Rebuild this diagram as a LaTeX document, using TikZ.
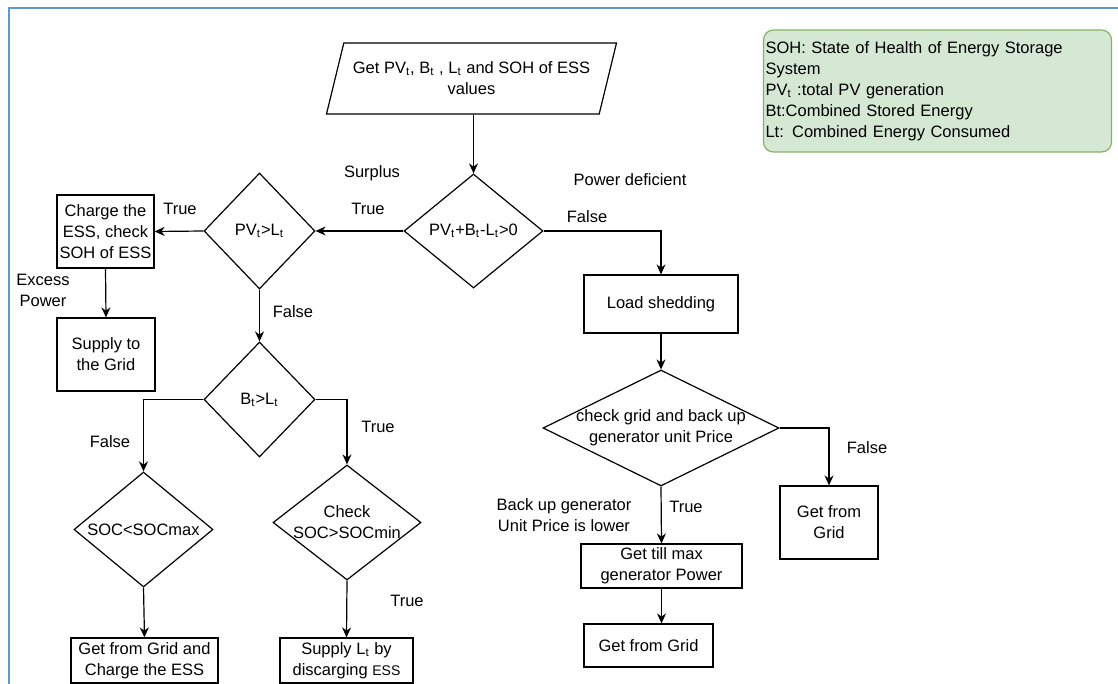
\documentclass[tikz,border=0pt]{standalone}
\usepackage{fontspec}
\setmainfont{Liberation Sans}
\usetikzlibrary{shapes.geometric,arrows.meta}

\definecolor{framec}{HTML}{5B9BD5}
\definecolor{notefill}{HTML}{D5E8D4}
\definecolor{noteline}{HTML}{82B366}

\begin{document}
\begin{tikzpicture}[x=0.5pt,y=-0.5pt,
	font=\fontsize{8.25}{10.5}\selectfont,
	line width=0.6pt,
	box/.style={draw,rectangle,inner sep=1pt,align=center},
	cond/.style={draw,diamond,inner sep=-2pt,align=center},
	lbl/.style={inner sep=0pt,align=center},
	arr/.style={-{Stealth[length=5pt,width=4.5pt]}}]
	
	% 画布大小 (按像素)
	\useasboundingbox (0,0) rectangle (1118,684);
	\draw[framec,line width=1pt] (9,684) -- (9,8) -- (1118,8); % 蓝色边框
	
	% 说明框
	\node[draw=noteline,fill=notefill,rounded corners=5pt,align=left,text width=172pt,inner xsep=1pt,minimum height=61pt] (note) at (937.5,91) {SOH: State of Health of Energy Storage\\System\\PV\textsubscript{t} :total PV generation\\Bt:Combined Stored Energy\\Lt: Combined Energy Consumed};
	
	% 输入
	\node[draw,trapezium,trapezium left angle=65,trapezium right angle=115,trapezium stretches body,minimum width=145pt,minimum height=35.5pt,align=center,inner sep=1pt] (input) at (471.5,78.5) {Get PV\textsubscript{t}, B\textsubscript{t} , L\textsubscript{t} and SOH of ESS\\values};
	
	% 判断框
	\node[cond,shape aspect=1.22,minimum width=69.5pt,minimum height=57pt] (bal) at (473.5,231) {PV\textsubscript{t}+B\textsubscript{t}-L\textsubscript{t}>0}; % 总功率判断
	\node[cond,shape aspect=0.96,minimum width=55.5pt,minimum height=58pt] (pvl) at (259.5,231) {PV\textsubscript{t}>L\textsubscript{t}}; % PV 与负载
	\node[cond,shape aspect=0.96,minimum width=55.5pt,minimum height=57.5pt] (bl) at (259.5,399.5) {B\textsubscript{t}>L\textsubscript{t}}; % 储能与负载
	\node[cond,shape aspect=1.21,minimum width=69.5pt,minimum height=57.5pt] (socmax) at (143.5,529.5) {SOC<SOCmax};
	\node[cond,shape aspect=1.29,minimum width=74pt,minimum height=57.5pt] (socmin) at (347,522.5) {Check\\SOC>SOCmin};
	\node[cond,shape aspect=2.03,minimum width=118pt,minimum height=58pt] (price) at (661,428) {check grid and back up\\generator unit Price}; % 电价比较
	
	% 处理框
	\node[box,minimum width=77pt,minimum height=29pt] (shed) at (661,304) {Load shedding};
	\node[box,minimum width=48.5pt,minimum height=36.5pt] (charge) at (105.5,231.5) {Charge the\\ESS, check\\SOH of ESS};
	\node[box,minimum width=49pt,minimum height=36.5pt] (supply) at (106,354.5) {Supply to\\the Grid};
	\node[box,minimum width=73.5pt,minimum height=22.5pt] (gridess) at (144.5,660.5) {Get from Grid and\\Charge the ESS};
	\node[box,minimum width=66.5pt,minimum height=22.5pt] (dischg) at (346.5,660.5) {Supply L\textsubscript{t} by\\discarging {\fontsize{7}{8}\selectfont ESS}};
	\node[box,minimum width=49pt,minimum height=36.5pt] (gridr) at (829,522.5) {Get from\\Grid};
	\node[box,minimum width=80.5pt,minimum height=22pt] (genmax) at (661.5,566) {Get till max\\generator Power};
	\node[box,minimum width=64.5pt,minimum height=21.5pt] (gridb) at (648.5,645.5) {Get from Grid};
	
	% 连线
	\draw[arr] (input.south -| bal.north) -- (bal.north);
	\draw[arr] (bal.west) -- (pvl.east);
	\draw[arr] (bal.east) -| (shed.north);
	\draw[arr] (pvl.west) -- (charge.east);
	\draw[arr] (charge.south) -- (supply.north);
	\draw[arr] (pvl.south) -- (bl.north);
	\draw[arr] (bl.west) -| (socmax.north);
	\draw[arr] (bl.east) -| (socmin.north);
	\draw[arr] (socmax.south) -- (gridess.north);
	\draw[arr] (socmin.south) -- (dischg.north);
	\draw[arr] (shed.south) -- (price.north);
	\draw[arr] (price.east) -| (gridr.north);
	\draw[arr] (price.south) -- (genmax.north);
	\draw[arr] (genmax.south) -- (genmax.south |- gridb.north);
	
	% 标注
	\node[lbl] (surplus) at (372,173) {Surplus};
	\node[lbl] (t1) at (368,209) {True};
	\node[lbl] (deficit) at (630,180) {Power deficient};
	\node[lbl] (f1) at (587,217) {False};
	\node[lbl] (t2) at (180,209) {True};
	\node[lbl] (excess) at (43,290.5) {Excess\\Power};
	\node[lbl] (f2) at (293,312) {False};
	\node[lbl] (f3) at (110,442) {False};
	\node[lbl] (t3) at (378,427) {True};
	\node[lbl] (t4) at (407,601) {True};
	\node[lbl] (f4) at (867,448) {False};
	\node[lbl] (t5) at (686,507) {True};
	\node[lbl] (lower) at (564,515) {Back up generator\\Unit Price is lower};
	
\end{tikzpicture}
\end{document}
